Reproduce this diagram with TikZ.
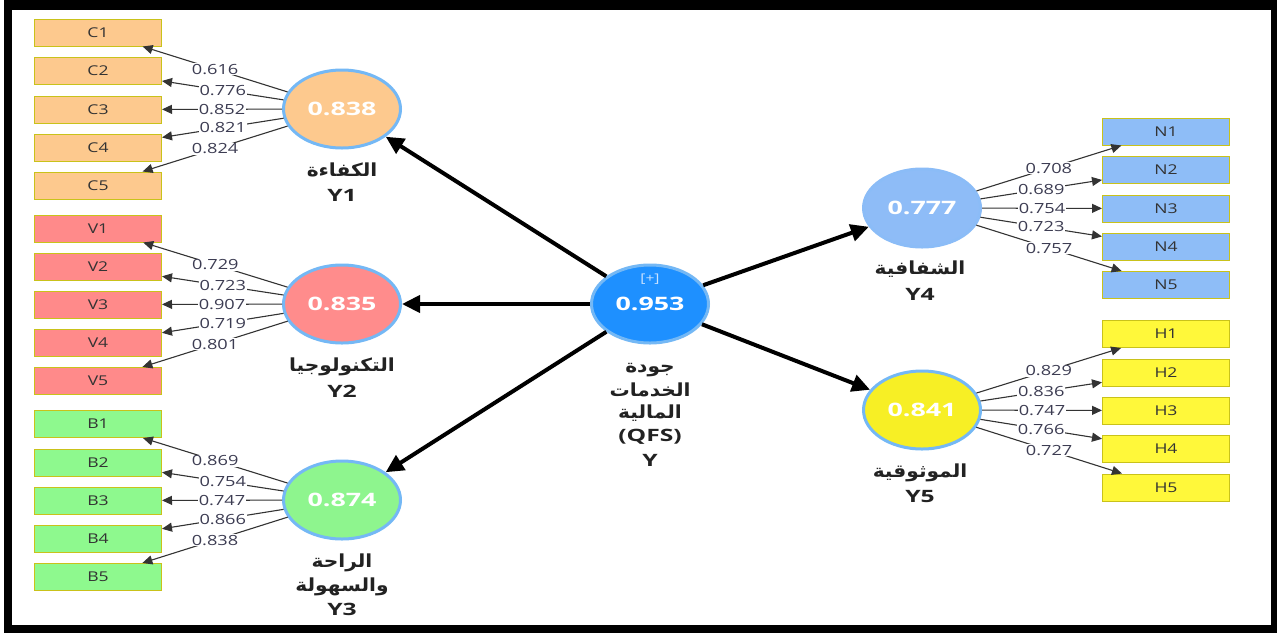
\documentclass[tikz,border=0pt]{standalone}
\usepackage{fontspec}
\usetikzlibrary{shapes.geometric,arrows.meta}
\TeXXeTstate=1
\newfontfamily\lat[FakeStretch=1.3]{Open Sans}
\newfontfamily\wide[FakeStretch=1.45]{Open Sans}
\newfontfamily\arabicfont[Script=Arabic,FakeStretch=1.12]{DejaVu Sans}
\definecolor{cC}{HTML}{FDC98E}
\definecolor{cV}{HTML}{FF8A8A}
\definecolor{cB}{HTML}{8EF98E}
\definecolor{cN}{HTML}{8EBDF7}
\definecolor{cH}{HTML}{FFF83A}
\definecolor{eY1}{HTML}{FDC98E}
\definecolor{eY2}{HTML}{FF8C8C}
\definecolor{eY3}{HTML}{8EF58E}
\definecolor{eY4}{HTML}{8EBCF7}
\definecolor{eY5}{HTML}{F7EF25}
\definecolor{eY}{HTML}{1E90FF}
\definecolor{boxline}{HTML}{C9C21A}
\definecolor{lvline}{HTML}{74B8F5}
\definecolor{lineg}{HTML}{333333}
\definecolor{lblc}{HTML}{3C3C52}
\definecolor{txt}{HTML}{333333}
\definecolor{ttlc}{HTML}{222222}
\definecolor{plusc}{HTML}{CCE4FF}
\tikzset{
  ind/.style={draw=boxline, line width=1pt, minimum width=127pt, minimum height=27pt, inner sep=0pt, text=txt, font=\lat\fontsize{13.5}{15}\selectfont},
  lv/.style={ellipse, draw=lvline, line width=3pt, minimum width=117pt, minimum height=78pt, inner sep=0pt, text=white, font=\wide\bfseries\fontsize{18.5}{20}\selectfont},
  load/.style={draw=lineg, line width=1.1pt, -{Triangle[length=10pt,width=9pt]}},
  lbl/.style={fill=white, inner sep=0.8pt, text=lblc, font=\lat\fontsize{14}{15}\selectfont},
  struct/.style={draw=black, line width=4pt, -{Triangle[length=18pt,width=17pt]}},
  ttl/.style={text=ttlc, inner sep=0pt, font=\wide\bfseries\fontsize{17}{19}\selectfont},
  attl/.style={text=ttlc, inner sep=0pt, text height=13pt, text depth=4pt, font=\arabicfont\bfseries\fontsize{18}{20}\selectfont}
}
\begin{document}
\begin{tikzpicture}[x=1pt,y=-1pt]
\useasboundingbox (0,0) rectangle (1277,633);
\fill[black] (4,0) rectangle (1277,633);
\fill[white] (12,10) rectangle (1271,625);

% latent variables
\node[lv, fill=eY1] (Y1) at (342,109) {0.838};
\node[lv, fill=eY2] (Y2) at (342,304) {0.835};
\node[lv, fill=eY3] (Y3) at (342,500) {0.874};
\node[lv, fill=eY] (Y) at (650,304) {0.953};
\node[lv, fill=eY4, draw=eY4!90!lvline] (Y4) at (922,208) {0.777};
\node[lv, fill=eY5] (Y5) at (922,410) {0.841};
\node[text=plusc, inner sep=0pt, font=\lat\fontsize{12}{14}\selectfont] (plus) at (650,279) {[+]};

% indicators
\foreach \i/\y in {1/32.5,2/71,3/109.5,4/147.5,5/185.5}{\node[ind, fill=cC] (C\i) at (98,\y) {C\i};}
\foreach \i/\y in {1/228.5,2/266.5,3/304.5,4/343,5/381}{\node[ind, fill=cV] (V\i) at (98,\y) {V\i};}
\foreach \i/\y in {1/424,2/462.5,3/500.5,4/539,5/577}{\node[ind, fill=cB] (B\i) at (98,\y) {B\i};}
\foreach \i/\y in {1/131.5,2/170,3/208.5,4/246.5,5/285}{\node[ind, fill=cN] (N\i) at (1166,\y) {N\i};}
\foreach \i/\y in {1/334,2/372.5,3/410.5,4/449,5/487.5}{\node[ind, fill=cH] (H\i) at (1166,\y) {H\i};}

% loadings
\foreach \i/\v in {1/0.616,2/0.776,3/0.852,4/0.821,5/0.824}{\draw[load] (Y1) -- node[lbl]{\v} (C\i);}
\foreach \i/\v in {1/0.729,2/0.723,3/0.907,4/0.719,5/0.801}{\draw[load] (Y2) -- node[lbl]{\v} (V\i);}
\foreach \i/\v in {1/0.869,2/0.754,3/0.747,4/0.866,5/0.838}{\draw[load] (Y3) -- node[lbl]{\v} (B\i);}
\foreach \i/\v in {1/0.708,2/0.689,3/0.754,4/0.723,5/0.757}{\draw[load] (Y4) -- node[lbl]{\v} (N\i);}
\foreach \i/\v in {1/0.829,2/0.836,3/0.747,4/0.766,5/0.727}{\draw[load] (Y5) -- node[lbl]{\v} (H\i);}

% structural paths
\draw[struct] (Y) -- (Y1);
\draw[struct] (Y) -- (Y2);
\draw[struct] (Y) -- (Y3);
\draw[struct] (Y) -- (Y4);
\draw[struct] (Y) -- (Y5);

% titles
\node[attl] (t1a) at (342,172) {\beginR الكفاءة\endR};
\node[ttl] (t1b) at (342,195) {Y1};
\node[attl] (t2a) at (342,367) {\beginR التكنولوجيا\endR};
\node[ttl] (t2b) at (342,391) {Y2};
\node[attl] (t3a) at (342,563) {\beginR الراحة\endR};
\node[attl] (t3b) at (342,587) {\beginR والسهولة\endR};
\node[ttl] (t3c) at (342,609) {Y3};
\node[attl] (ta) at (650,368) {\beginR جودة\endR};
\node[attl] (tb) at (650,392) {\beginR الخدمات\endR};
\node[attl] (tc) at (650,414) {\beginR المالية\endR};
\node[ttl] (td) at (650,437) {(QFS)};
\node[ttl] (te) at (650,460) {Y};
\node[attl] (t4a) at (920,270) {\beginR الشفافية\endR};
\node[ttl] (t4b) at (920,294) {Y4};
\node[attl] (t5a) at (920,473) {\beginR الموثوقية\endR};
\node[ttl] (t5b) at (920,497) {Y5};
\end{tikzpicture}
\end{document}
